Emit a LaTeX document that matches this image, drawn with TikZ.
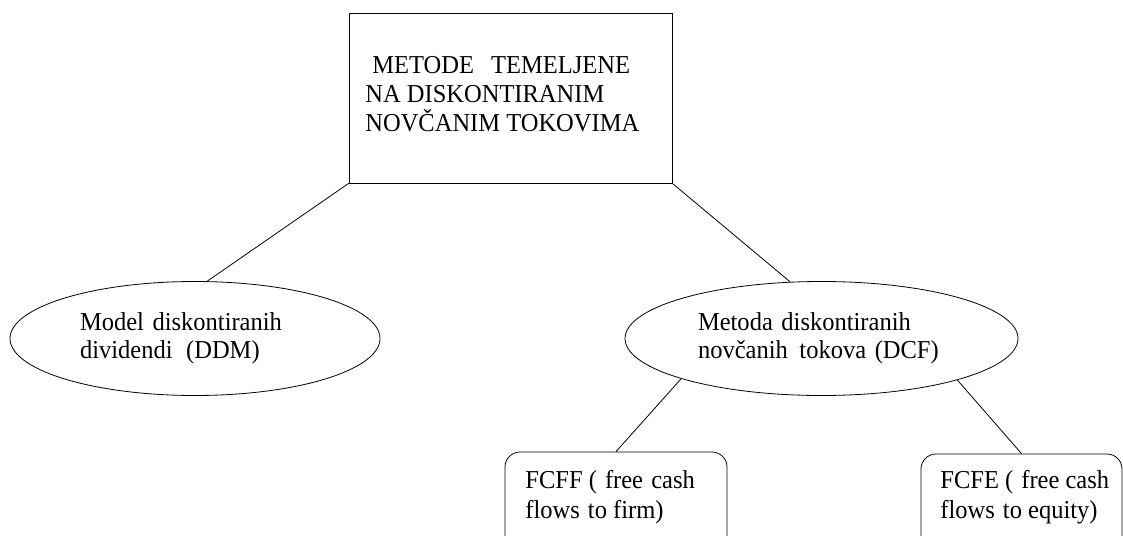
\documentclass[tikz,border=0pt]{standalone}
\usepackage{fontspec}
\setmainfont[FakeStretch=0.95]{Liberation Serif}
\usetikzlibrary{shapes.geometric}

\tikzstyle{topbox}=[draw,minimum width=323pt,minimum height=170pt]
\tikzstyle{oval}=[draw,ellipse,minimum height=114pt,align=left,inner sep=0pt]
\tikzstyle{flowbox}=[draw,rounded corners=15pt,minimum height=100pt]
\tikzstyle{boxtext}=[anchor=north west,align=left,inner sep=0pt]

\begin{document}
\begin{tikzpicture}[x=1pt,y=-1pt,line width=0.8pt,font=\fontsize{25.8}{28}\selectfont]
\useasboundingbox (0,0) rectangle (1123,535);
% top box
\node[topbox] (metode) at (510.5,98) {};
\node[boxtext,font=\fontsize{25.8}{28.75}\selectfont] (metodetxt) at (365,56.5)
    {\hspace{7pt}METODE\hspace{11pt} TEMELJENE\\NA DISKONTIRANIM\\NOVČANIM TOKOVIMA};
% 2nd level
\node[oval,minimum width=370pt,text width=230pt] (ddm) at (195,338.5)
    {Model diskontiranih\\dividendi\hspace{5pt} (DDM)};
\node[oval,minimum width=393pt,text width=247pt] (dcf) at (821.5,338.5)
    {Metoda diskontiranih\\\mbox{novčanih\hspace{3pt} tokova (DCF)}};
% 3rd level
\node[flowbox,minimum width=222pt] (fcff) at (616,502) {};
\node[boxtext,font=\fontsize{25.8}{30}\selectfont] (fcfftxt) at (525,469.5)
    {FCFF (\hspace{2pt} free\hspace{2pt} cash\\flows\hspace{2pt} to firm)};
\node[flowbox,minimum width=201pt] (fcfe) at (1021.5,504) {};
\node[boxtext,font=\fontsize{25.8}{30}\selectfont] (fcfetxt) at (940,470)
    {FCFE (\hspace{2pt} free cash\\flows\hspace{2pt} to equity)};
% links
\draw (metode.south west) -- (ddm.78);
\draw (metode.south east) -- (dcf.119);
\draw (dcf.196) -- (fcff.north);
\draw (dcf.343) -- (fcfe.north);
\end{tikzpicture}
\end{document}
